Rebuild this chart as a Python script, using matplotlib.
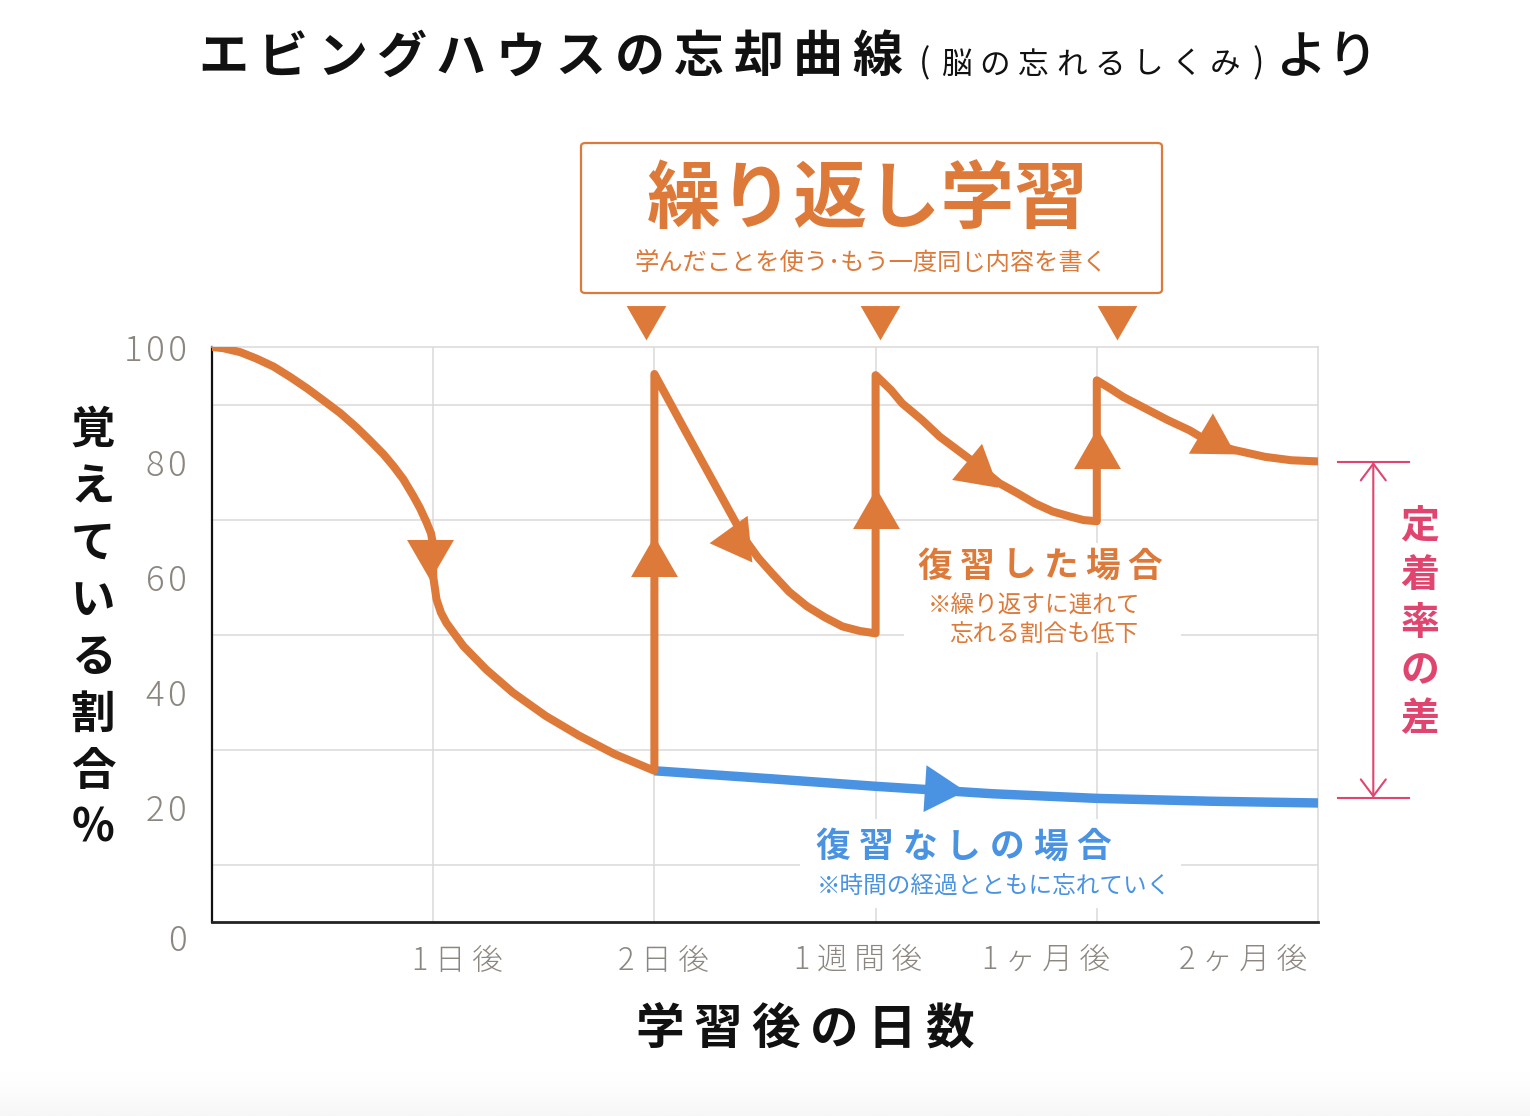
import numpy as np
import matplotlib
matplotlib.use("Agg")
import matplotlib.pyplot as plt
from matplotlib.patches import FancyBboxPatch, Rectangle
from matplotlib.transforms import ScaledTranslation

plt.rcParams["font.family"] = ["Noto Sans CJK JP", "DejaVu Sans"]

# --- data ----------------------------------------------------------------
# first forgetting curve (0 -> 2日後)
forget_x = [0, 0.05, 0.128, 0.2, 0.278, 0.353, 0.43, 0.504, 0.58, 0.654,
            0.71, 0.774, 0.82, 0.865, 0.91, 0.94, 0.97, 0.99, 1.0, 1.0,
            1.015, 1.035, 1.06, 1.136, 1.24, 1.36, 1.51, 1.66, 1.82, 2.0]
forget_y = [100, 99.8, 99.1, 98.0, 96.6, 94.8, 92.8, 90.7, 88.5, 86.0,
            83.9, 81.4, 79.3, 77.0, 74.1, 72.0, 69.5, 67.6, 65.5, 60.1,
            56.1, 53.8, 52.0, 48.0, 43.9, 39.9, 35.8, 32.4, 29.2, 26.3]
# after each review
review1_x = [2.0, 2.13, 2.27, 2.41, 2.47, 2.53, 2.61, 2.69, 2.77, 2.85,
             2.93, 3.0]
review1_y = [95.3, 86.1, 76.3, 66.5, 63.3, 60.7, 57.4, 54.9, 53.0, 51.4,
             50.6, 50.2]
review2_x = [3.0, 3.07, 3.12, 3.21, 3.29, 3.37, 3.45, 3.56, 3.64, 3.72,
             3.80, 3.88, 3.94, 4.0]
review2_y = [95.1, 92.5, 90.2, 87.3, 84.4, 82.1, 79.8, 76.3, 74.6, 72.8,
             71.4, 70.5, 69.9, 69.7]
review3_x = [4.0, 4.06, 4.12, 4.22, 4.32, 4.42, 4.52, 4.62, 4.76, 4.88, 5.0]
review3_y = [94.2, 92.8, 91.3, 89.3, 87.3, 85.5, 83.2, 82.1, 80.9, 80.3, 80.1]
# no review
noreview_x = [2.0, 2.53, 3.0, 3.53, 4.0, 4.52, 5.0]
noreview_y = [26.3, 24.9, 23.6, 22.3, 21.5, 21.0, 20.7]

orange_arrow_x = [0.985, 2.0, 2.37, 3.0, 3.46, 4.0, 4.52]
orange_arrow_y = [64.2, 62.4, 66.5, 70.8, 78.6, 81.2, 83.8]
blue_arrow_x = [3.28]
blue_arrow_y = [23.1]
review_mark_x = [1.96, 3.02, 4.09]
review_mark_y = 105.2
gap_y = [80, 21.6]

xtick_pos = [1.11, 2.04, 2.92, 3.77, 4.66]
xtick_labels = ["1 日 後", "2 日 後", "1 週 間 後", "1 ヶ 月 後", "2 ヶ 月 後"]
ytick_pos = [0, 20, 40, 60, 80, 100]

ORANGE = "#DD7A3A"
BLUE = "#4A93E2"
PINK = "#E0456F"
GRAY = "#8C8680"
GRID = "#DADADA"

W, H = 1530, 1116
fig = plt.figure(figsize=(W / 100, H / 100), dpi=100)
fig.patch.set_facecolor("white")

# faint shade along the bottom edge (white at top, light grey at bottom)
shade = fig.add_axes([0, 0, 1, 50 / H], zorder=-1)
shade.imshow(np.linspace(0.0, 1.0, 60)[:, None] ** 1.5, cmap="Greys",
             vmin=0, vmax=14, aspect="auto", extent=[0, 1, 0, 1])
shade.set_axis_off()


def fp(x, y):
    return x / W, 1 - y / H


def spaced(x, y, s, step, vertical=False, **kw):
    for i, ch in enumerate(s):
        cx, cy = (x, y + i * step) if vertical else (x + i * step, y)
        fig.text(*fp(cx, cy), ch, ha="center", va="center", **kw)


ax = fig.add_axes([212 / W, 1 - 922 / H, (1318 - 212) / W, (922 - 347) / H])
ax.set_xlim(0, 5)
ax.set_ylim(0, 100)

# grid
ax.set_xticks([1, 2, 3, 4], minor=True)
ax.set_yticks(np.arange(10, 100, 10), minor=True)
ax.grid(which="minor", color=GRID, lw=1.1)
ax.tick_params(which="minor", length=0)
for side in ("top", "right"):
    ax.spines[side].set_color(GRID)
    ax.spines[side].set_linewidth(1.1)
ax.spines["left"].set_color("#111111")
ax.spines["left"].set_linewidth(1.6)
ax.spines["bottom"].set_color("#222222")
ax.spines["bottom"].set_linewidth(2.0)

ax.set_xticks(xtick_pos)
ax.set_xticklabels(xtick_labels)
ax.set_yticks(ytick_pos)
ax.set_yticklabels(["\u200a".join(str(v)) for v in ytick_pos])
ax.tick_params(axis="x", length=0, pad=16.5, labelsize=22, labelcolor=GRAY)
ax.tick_params(axis="y", length=0, pad=18, labelsize=25, labelcolor=GRAY)
for lab in ax.get_xticklabels() + ax.get_yticklabels():
    lab.set_fontweight("light")
ylabs = ax.get_yticklabels()
ylabs[0].set_transform(ylabs[0].get_transform()
                       + ScaledTranslation(0, -0.15, fig.dpi_scale_trans))

# white boxes behind the in-chart captions
ax.add_patch(Rectangle((3.13, 47.0), 1.25, 19.0, facecolor="white",
                       edgecolor="none", zorder=2))
ax.add_patch(Rectangle((2.66, 2.5), 1.72, 15.5, facecolor="white",
                       edgecolor="none", zorder=2))

# curves
path_x = forget_x + review1_x + review2_x + review3_x
path_y = forget_y + review1_y + review2_y + review3_y
ax.plot(noreview_x, noreview_y, color=BLUE, lw=6.8, solid_capstyle="butt",
        zorder=3)
ax.plot(path_x, path_y, color=ORANGE, lw=5.8, solid_capstyle="round",
        solid_joinstyle="round", zorder=4)


def direction(xs, ys, x0, y0):
    pts = ax.transData.transform(np.column_stack([xs, ys]))
    p0 = ax.transData.transform((x0, y0))
    mids = (pts[:-1] + pts[1:]) / 2
    i = int(np.argmin(np.hypot(*(mids - p0).T)))
    v = pts[i + 1] - pts[i]
    return np.degrees(np.arctan2(v[1], v[0]))


for x0, y0 in zip(orange_arrow_x, orange_arrow_y):
    ang = direction(path_x, path_y, x0, y0)
    ax.plot(x0, y0, marker=(3, 0, ang - 90), ms=39, color=ORANGE,
            mec="none", zorder=5)
for x0, y0 in zip(blue_arrow_x, blue_arrow_y):
    ang = direction(noreview_x, noreview_y, x0, y0)
    ax.plot(x0, y0, marker=(3, 0, ang - 90), ms=39, color=BLUE,
            mec="none", zorder=5)
for x0 in review_mark_x:
    ax.plot(x0, review_mark_y, marker=(3, 0, 180), ms=33, color=ORANGE,
            mec="none", clip_on=False, zorder=5)

# gap bracket
ax.annotate("", xy=(5.25, gap_y[0]), xytext=(5.25, gap_y[1]),
            arrowprops=dict(arrowstyle="<->,head_length=0.6,head_width=0.45",
                            color=PINK, lw=1.5, shrinkA=0, shrinkB=0,
                            mutation_scale=20),
            annotation_clip=False)
for gy in gap_y:
    ax.plot([5.09, 5.41], [gy, gy], color=PINK, lw=1.5, clip_on=False)
spaced(1420, 527, "定着率の差", 48, vertical=True, fontsize=28,
       fontweight="bold", color=PINK)

# in-chart captions
spaced(935, 566, "復習した場合", 42, fontsize=25, fontweight="bold", color=ORANGE)
fig.text(*fp(1034, 606), "※繰り返すに連れて", ha="center", va="center",
         fontsize=17, color=ORANGE)
fig.text(*fp(1044, 634), "忘れる割合も低下", ha="center", va="center",
         fontsize=17, color=ORANGE)
spaced(833, 847, "復習なしの場合", 43.5, fontsize=25, fontweight="bold",
       color=BLUE)
fig.text(*fp(994, 887), "※時間の経過とともに忘れていく", ha="center", va="center",
         fontsize=17, color=BLUE)

# top box
fig.patches.append(FancyBboxPatch(fp(581, 293), (1162 - 581) / W, 150 / H,
                                  boxstyle="round,pad=0,rounding_size=0.003",
                                  transform=fig.transFigure, facecolor="white",
                                  edgecolor=ORANGE, lw=1.6))
fig.text(*fp(868, 201), "繰り返し学習", ha="center", va="center", fontsize=53,
         fontweight="bold", color=ORANGE)
fig.text(*fp(871, 263), "学んだことを使う･もう一度同じ内容を書く", ha="center",
         va="center", fontsize=17.5, color=ORANGE)

# title
spaced(223, 58, "エビングハウスの忘却曲線", 59.5, fontsize=36, fontweight="bold",
       color="#111111")
fig.text(*fp(924, 64), "(", ha="center", va="center", fontsize=24,
         color="#111111")
spaced(956, 65, "脳の忘れるしくみ", 38.5, fontsize=22, color="#111111")
fig.text(*fp(1258, 64), ")", ha="center", va="center", fontsize=24,
         color="#111111")
spaced(1302, 58, "より", 50, fontsize=37, fontweight="medium",
       color="#111111")

# axis titles
spaced(93, 430, "覚えている割合%", 57, vertical=True, fontsize=32,
       fontweight="bold", color="#111111")
spaced(660, 1030, "学習後の日数", 58, fontsize=35, fontweight="bold",
       color="#111111")

fig.savefig("out.png", dpi=100, facecolor="white")
